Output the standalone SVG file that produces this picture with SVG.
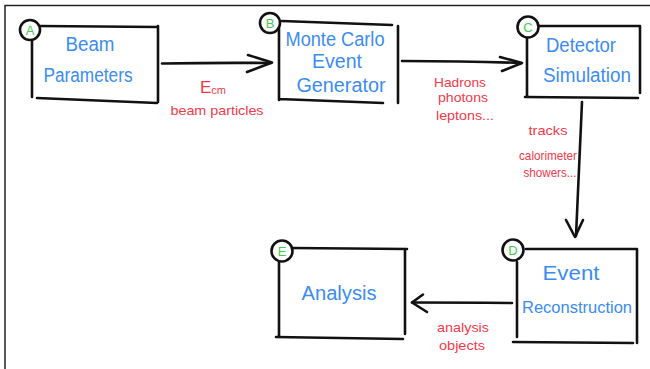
<svg xmlns="http://www.w3.org/2000/svg" width="650" height="369" viewBox="0 0 650 369">
<style>
.frame{fill:none;stroke:#222;stroke-width:1.5}
.ln{fill:none;stroke:#111;stroke-width:2.6;stroke-linecap:round;stroke-linejoin:round}
.badge{fill:#fff;stroke:#111;stroke-width:2.6}
.bl{font-family:"Liberation Sans",Arial,sans-serif;font-size:20px;fill:#3b8cf2;text-anchor:middle}
.gl{font-family:"Liberation Sans",Arial,sans-serif;font-size:13px;fill:#46c952;text-anchor:middle}
.rl{font-family:"Liberation Sans",Arial,sans-serif;font-size:13.5px;fill:#f2394a;text-anchor:middle}
</style>
<rect width="650" height="369" fill="#fff"/>
<path class="frame" d="M5,369 V5.5 H650"/>

<g id="connectors">
  <g id="a-b">
    <path class="ln" d="M162,63.5 Q220,62.5 271,63"/>
    <path class="ln" d="M248,55 L272,62.5 L247,72"/>
  </g>
  <g id="b-c">
    <path class="ln" d="M402,61 Q470,61 521,63"/>
    <path class="ln" d="M500,57 L522,63 L502,71"/>
  </g>
  <g id="c-d">
    <path class="ln" d="M582,102 L576,236"/>
    <path class="ln" d="M566,220 L575,237 L583,220"/>
  </g>
  <g id="d-e">
    <path class="ln" d="M512,303 Q460,302.5 412,302.5"/>
    <path class="ln" d="M423,294.5 L412,302.5 L427,312"/>
  </g>
</g>

<g id="node-a">
  <path class="ln" d="M40,26 L158,27 M32,40 L32,97 M158,26 L158,102 M37,98 L157,103"/>
  <circle class="badge" cx="30" cy="30" r="10"/>
  <text class="gl" x="30" y="35">A</text>
  <text class="bl" x="90" y="51" textLength="49" lengthAdjust="spacingAndGlyphs">Beam</text>
  <text class="bl" x="88" y="82" textLength="89" lengthAdjust="spacingAndGlyphs">Parameters</text>
</g>

<g id="node-b">
  <path class="ln" d="M282,21 L392,25 M279,28 L279,100 M398,26 L398,103 M279,99 L383,103"/>
  <circle class="badge" cx="270" cy="23" r="10"/>
  <text class="gl" x="270" y="28">B</text>
  <text class="bl" x="335" y="46" textLength="99" lengthAdjust="spacingAndGlyphs">Monte Carlo</text>
  <text class="bl" x="337" y="68" textLength="50" lengthAdjust="spacingAndGlyphs">Event</text>
  <text class="bl" x="341" y="92" textLength="89" lengthAdjust="spacingAndGlyphs">Generator</text>
</g>

<g id="node-c">
  <path class="ln" d="M539,26 L640,26 M527,37 L527,97 M640,26 L640,93 M525,97 L638,98"/>
  <circle class="badge" cx="528" cy="27" r="10.5"/>
  <text class="gl" x="528" y="32">C</text>
  <text class="bl" x="581" y="52" textLength="70" lengthAdjust="spacingAndGlyphs">Detector</text>
  <text class="bl" x="587" y="82" textLength="88" lengthAdjust="spacingAndGlyphs">Simulation</text>
</g>

<g id="node-d">
  <path class="ln" d="M526,249 L637,249 M517,262 L517,337 M637,249 L637,343 M513,342 L633,343"/>
  <circle class="badge" cx="513" cy="250" r="10.5"/>
  <text class="gl" x="513" y="255">D</text>
  <text class="bl" x="571" y="280" textLength="57" lengthAdjust="spacingAndGlyphs">Event</text>
  <text class="bl" x="577" y="313" style="font-size:17px" textLength="110" lengthAdjust="spacingAndGlyphs">Reconstruction</text>
</g>

<g id="node-e">
  <path class="ln" d="M292,248 L407,249 M279,262 L279,337 M405,249 L405,334 M276,337 L403,339"/>
  <circle class="badge" cx="282" cy="251" r="10.5"/>
  <text class="gl" x="282" y="256">E</text>
  <text class="bl" x="339" y="300" textLength="75" lengthAdjust="spacingAndGlyphs">Analysis</text>
</g>

<g id="labels">
  <text class="rl" x="213" y="93" style="font-size:17px">E<tspan style="font-size:11px" dy="1">cm</tspan></text>
  <text class="rl" x="217" y="115" textLength="93" lengthAdjust="spacingAndGlyphs">beam particles</text>
  <text class="rl" x="460" y="87" textLength="52" lengthAdjust="spacingAndGlyphs">Hadrons</text>
  <text class="rl" x="463" y="102" textLength="50" lengthAdjust="spacingAndGlyphs">photons</text>
  <text class="rl" x="465" y="120" textLength="58" lengthAdjust="spacingAndGlyphs">leptons...</text>
  <text class="rl" x="548" y="135" textLength="39" lengthAdjust="spacingAndGlyphs">tracks</text>
  <text class="rl" x="548" y="160" textLength="58" lengthAdjust="spacingAndGlyphs">calorimeter</text>
  <text class="rl" x="550" y="177" textLength="53" lengthAdjust="spacingAndGlyphs">showers...</text>
  <text class="rl" x="463" y="332" textLength="52" lengthAdjust="spacingAndGlyphs">analysis</text>
  <text class="rl" x="462" y="350" textLength="46" lengthAdjust="spacingAndGlyphs">objects</text>
</g>
</svg>
